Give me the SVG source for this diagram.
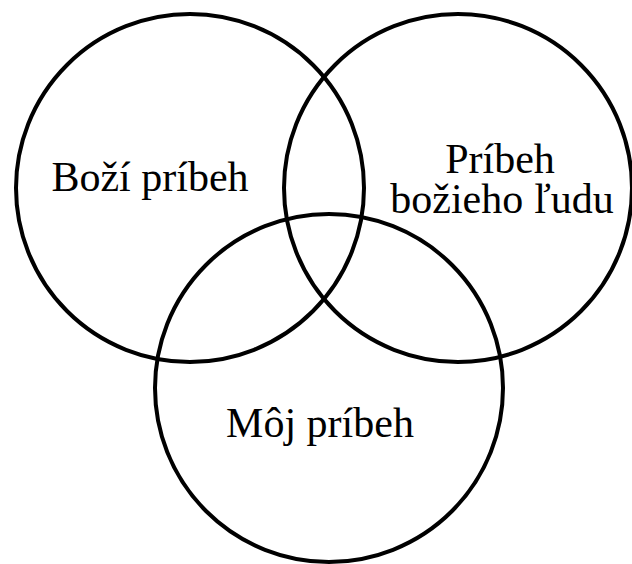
<svg xmlns="http://www.w3.org/2000/svg" width="632" height="564" viewBox="0 0 632 564">
<style>
.c{fill:none;stroke:#000;stroke-width:4}
.t{font-family:"Liberation Serif","Times New Roman",serif;font-size:42px;fill:#000;text-anchor:middle}
</style>
<rect width="632" height="564" fill="#fff"/>
<g id="god">
<circle class="c" cx="190" cy="188" r="174"/>
<text class="t" x="150" y="191">Boží príbeh</text>
</g>
<g id="people">
<circle class="c" cx="458" cy="188" r="174"/>
<text class="t" x="500" y="173">Príbeh</text>
<text class="t" x="502" y="213">božieho ľudu</text>
</g>
<g id="mine">
<circle class="c" cx="329" cy="388" r="174"/>
<text class="t" x="320" y="437">Môj príbeh</text>
</g>
<g id="connectors"/>
</svg>
